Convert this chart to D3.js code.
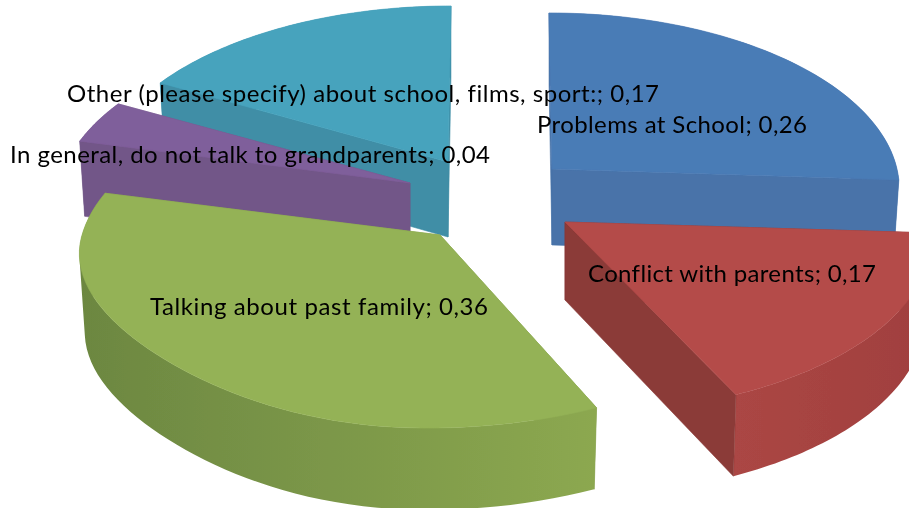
<!DOCTYPE html>
<html><head><meta charset="utf-8">
<script src="https://cdn.jsdelivr.net/npm/d3@7"></script>
<style>html,body{margin:0;padding:0;background:#fff;overflow:hidden}svg{display:block}</style>
</head><body><div id="chart"></div>
<script>
const categories = ["Problems at School","Conflict with parents","Talking about past family","In general, do not talk to grandparents","Other (please specify) about school, films, sport:"];
const values = [0.26,0.17,0.36,0.04,0.17];
const topColors = ["#4a7bb6","#b44c4a","#94b256","#7f5e9b","#46a3bd"];
const cutColors = ["#4873a9","#8b3a38","#86a04e","#725788","#3f8ea6"];
const rimLeft  = ["#4873a9","#ab4644","#6c8741","#725788","#3f8ea6"];
const rimRight = ["#4873a9","#a0403e","#8ca850","#725788","#3f8ea6"];
const centerX = [552,565,440,410,448];
const centerY = [169,222,235,183,162];
const radiusX = [345,363,358,350,347];
const shearX  = [3.3,0,-12,0,-3.3];
const flatten = [0,0,0.04,0,0];
const depths  = [76,78,78,76,75];
const drawOrder = [4,0,3,2,1];
const labelX = [537,588,150,10,67];
const labelY = [133,282,315,163,102];
const labelW = [270,288,338,480,592];

const W=909,H=508,radiusY=172.6,persp=0.106,kx=0.985,ky=1.02;
const svg=d3.select("#chart").append("svg").attr("width",W).attr("height",H);
const defs=svg.append("defs");
defs.append("filter").attr("id","soft").attr("x",0).attr("y",0).attr("width",1).attr("height",1)
  .append("feGaussianBlur").attr("stdDeviation",0.4);
const arcs=d3.pie().sort(null).value(d=>d)(values);
const line=d3.line();
const fmt=v=>d3.format(".2f")(v).replace(".",",");

function offset(i,t){
  const u=Math.sin(t),v=-Math.cos(t),w=1-persp*v;
  const q=(u<0&&v>0)?Math.pow(Math.sin(2*(t-Math.PI)),2):0;
  const r=1-flatten[i]*q;
  return [r*(radiusX[i]*u+shearX[i]*v)/w,r*radiusY*v/w];
}
const top3=(i,t)=>{const o=offset(i,t);return [centerX[i]+o[0],centerY[i]+o[1]];};
const bot3=(i,t)=>{const o=offset(i,t);return [centerX[i]+kx*o[0],centerY[i]+depths[i]+ky*o[1]];};
const apexT=i=>[centerX[i],centerY[i]];
const apexB=i=>[centerX[i],centerY[i]+depths[i]];

const root=svg.append("g").attr("filter","url(#soft)");
root.append("rect").attr("width",W).attr("height",H).attr("fill","#fff");
const g=root.append("g");
drawOrder.forEach(i=>{
  const a=arcs[i],t0=a.startAngle,t1=a.endAngle;
  const slice=g.append("g");
  const startCut=[apexT(i),top3(i,t0),bot3(i,t0),apexB(i)];
  const endCut=[apexT(i),top3(i,t1),bot3(i,t1),apexB(i)];
  const startVisible=offset(i,t0)[0]<0, endVisible=offset(i,t1)[0]>0;
  const poly=(pts,c)=>slice.append("path").attr("d",line(pts)+"Z").attr("fill",c).attr("stroke",c).attr("stroke-width",0.6);
  if(!startVisible)poly(startCut,cutColors[i]);
  if(!endVisible)poly(endCut,cutColors[i]);
  const steps=d3.range(61).map(k=>t0+(t1-t0)*k/60);
  const all=[...steps.map(t=>top3(i,t)),...steps.map(t=>bot3(i,t))];
  const ext=d3.extent(all,p=>p[0]);
  const grad=defs.append("linearGradient").attr("id","rim"+i).attr("gradientUnits","userSpaceOnUse")
    .attr("x1",ext[0]).attr("x2",ext[1]).attr("y1",0).attr("y2",0);
  grad.append("stop").attr("offset",0).attr("stop-color",rimLeft[i]);
  grad.append("stop").attr("offset",1).attr("stop-color",rimRight[i]);
  const rimPath=d3.pairs(steps).map(([s,e])=>{
    const q=[top3(i,s),top3(i,e),bot3(i,e),bot3(i,s)];
    if(d3.polygonArea(q)<0)q.reverse();
    return line(q)+"Z";
  }).join("");
  slice.append("path").attr("d",rimPath).attr("fill",`url(#rim${i})`);
  if(startVisible)poly(startCut,cutColors[i]);
  if(endVisible)poly(endCut,cutColors[i]);
  poly([apexT(i),...steps.map(t=>top3(i,t))],topColors[i]);
});

categories.forEach((c,i)=>{
  root.append("text").attr("x",labelX[i]).attr("y",labelY[i])
    .attr("font-family","Lato, 'Open Sans', sans-serif").attr("font-size",24).attr("fill","#000")
    .style("font-variant-ligatures","none")
    .attr("textLength",labelW[i]).attr("lengthAdjust","spacing")
    .text(`${c}; ${fmt(values[i])}`);
});
</script></body></html>
